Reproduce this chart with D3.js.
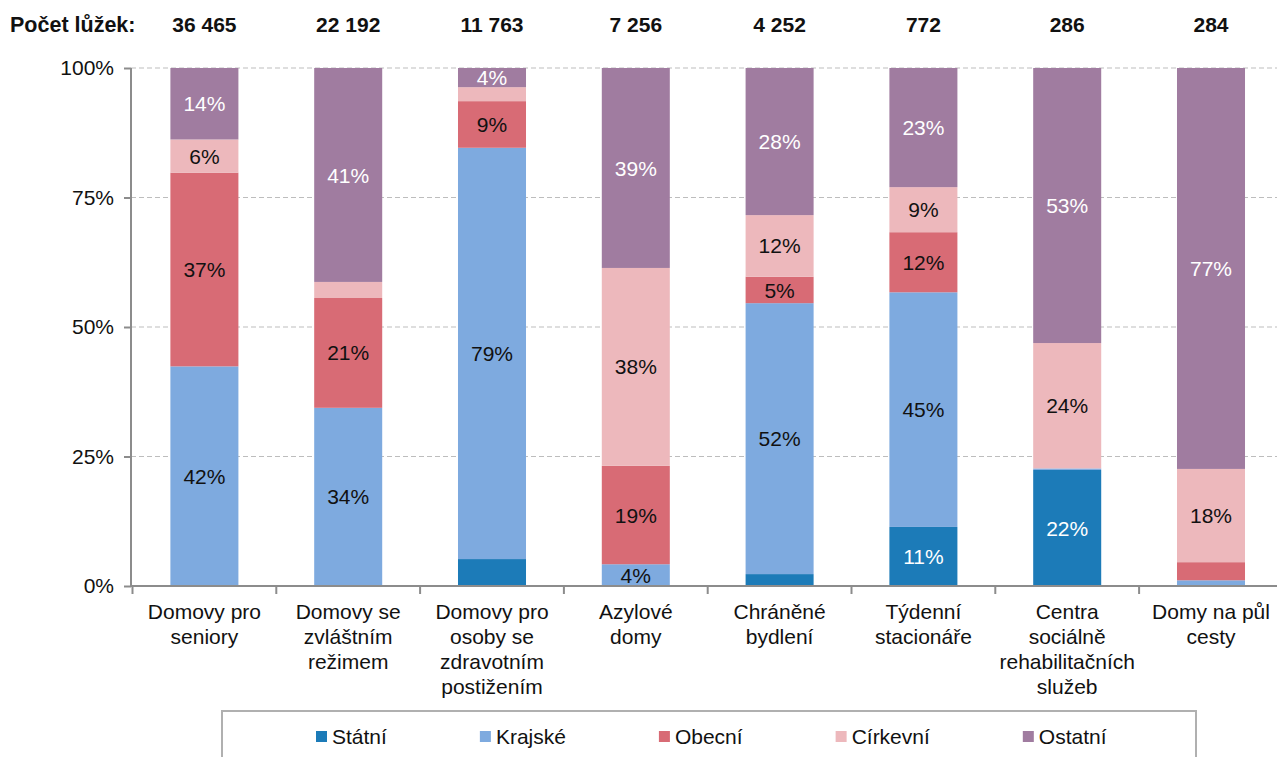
<!DOCTYPE html>
<html>
<head>
<meta charset="utf-8">
<script src="https://cdn.jsdelivr.net/npm/d3@7"></script>
<style>
  body { margin: 0; background: #fff; }
  svg { display: block; font-family: "Liberation Sans", Arial, sans-serif; }
</style>
</head>
<body>
<div id="chart"></div>
<script>
// Kapacita lůžek podle zřizovatele (podíly v %)
const categories = [
  ['Domovy pro', 'seniory'],
  ['Domovy se', 'zvláštním', 'režimem'],
  ['Domovy pro', 'osoby se', 'zdravotním', 'postižením'],
  ['Azylové', 'domy'],
  ['Chráněné', 'bydlení'],
  ['Týdenní', 'stacionáře'],
  ['Centra', 'sociálně', 'rehabilitačních', 'služeb'],
  ['Domy na půl', 'cesty']
];
const beds = ['36 465', '22 192', '11 763', '7 256', '4 252', '772', '286', '284'];
const seriesNames = ['Státní', 'Krajské', 'Obecní', 'Církevní', 'Ostatní'];
const statni   = [0,    0,    5.2,  0,    2.3,  11.4, 22.4, 0];
const krajske  = [42.4, 34.4, 79.4, 4.2,  52.3, 45.3, 0.3,  1.1];
const obecni   = [37.4, 21.2, 9.0,  19.0, 5.1,  11.6, 0,    3.5];
const cirkevni = [6.4,  3.1,  2.7,  38.2, 11.9, 8.7,  24.2, 18.0];
const ostatni  = [13.8, 41.3, 3.7,  38.6, 28.4, 23.0, 53.1, 77.4];
const yTicks = [0, 25, 50, 75, 100];
// segments whose label is left out in the original: [category, series]
const hiddenLabels = [[1, 3], [2, 0], [2, 3], [4, 0], [6, 1], [7, 1], [7, 2]];

const COLORS = ['#1c7bb8', '#7eaadf', '#d86b75', '#edb8bc', '#a07ca0'];
const LABEL_COLORS = ['#fff', '#111', '#111', '#111', '#fff'];

const W = 1277, H = 757;
const M = { top: 68, bottom: 171, left: 131 };
const FS = 21;

const seriesData = [statni, krajske, obecni, cirkevni, ostatni];
const rows = categories.map((c, i) => {
  const r = { i };
  seriesNames.forEach((s, j) => { r[s] = seriesData[j][i]; });
  return r;
});
const stack = d3.stack().keys(seriesNames)(rows);

const svg = d3.select('#chart').append('svg')
  .attr('width', W).attr('height', H);

// category bands run a little past the right edge, as in the original
const x = d3.scaleBand().domain(d3.range(categories.length))
  .range([M.left + 1.5, M.left + 1.5 + 8 * 143.8]).paddingInner(0.527).paddingOuter(0.2635);
const y = d3.scaleLinear().domain([0, 100]).range([H - M.bottom, M.top]);
const step = x.step();
const x0 = x.range()[0];

// grid lines
svg.append('g')
  .selectAll('line').data(yTicks.filter(d => d > 0)).join('line')
  .attr('x1', M.left).attr('x2', W)
  .attr('y1', d => y(d)).attr('y2', d => y(d))
  .attr('stroke', '#bdbdbd').attr('stroke-width', 1.2)
  .attr('stroke-dasharray', '5 3');

// bars
const layer = svg.append('g').selectAll('g').data(stack).join('g')
  .attr('fill', (d, j) => COLORS[j]);
layer.selectAll('rect').data(d => d).join('rect')
  .attr('x', d => x(d.data.i))
  .attr('width', x.bandwidth())
  .attr('y', d => y(d[1]))
  .attr('height', d => y(d[0]) - y(d[1]));

// segment labels
const isHidden = (i, j) => hiddenLabels.some(h => h[0] === i && h[1] === j);
stack.forEach((s, j) => {
  svg.append('g').selectAll('text')
    .data(s.filter(d => d[1] - d[0] > 0 && !isHidden(d.data.i, j)))
    .join('text')
    .attr('x', d => x(d.data.i) + x.bandwidth() / 2)
    .attr('y', d => (y(d[0]) + y(d[1])) / 2)
    .attr('dy', '0.36em')
    .attr('text-anchor', 'middle')
    .attr('font-size', FS)
    .attr('fill', LABEL_COLORS[j])
    .text(d => Math.round(d[1] - d[0]) + '%');
});

// y axis
const yAxis = svg.append('g').attr('transform', `translate(${M.left},0)`)
  .call(d3.axisLeft(y).tickValues(yTicks).tickFormat(d => d + '%').tickSize(7).tickPadding(10));
yAxis.selectAll('path, line').attr('stroke', '#8c8c8c').attr('stroke-width', 2);
yAxis.select('.domain').attr('d', `M0,${y(0)}V${y(100)}`);
yAxis.selectAll('text').attr('font-size', FS).attr('fill', '#111')
  .attr('font-family', '"Liberation Sans", Arial, sans-serif');

// x axis line and ticks between categories
const xg = svg.append('g');
xg.append('line')
  .attr('x1', M.left).attr('x2', W)
  .attr('y1', y(0)).attr('y2', y(0))
  .attr('stroke', '#8c8c8c').attr('stroke-width', 2);
xg.selectAll('line.tk').data(d3.range(categories.length)).join('line')
  .attr('class', 'tk')
  .attr('x1', i => x0 + i * step).attr('x2', i => x0 + i * step)
  .attr('y1', y(0)).attr('y2', y(0) + 8)
  .attr('stroke', '#8c8c8c').attr('stroke-width', 2);

// category labels
const catText = svg.append('g').selectAll('text').data(categories).join('text')
  .attr('x', (d, i) => x(i) + x.bandwidth() / 2)
  .attr('y', y(0) + 33)
  .attr('text-anchor', 'middle')
  .attr('font-size', FS)
  .attr('fill', '#111');
catText.selectAll('tspan').data(d => d).join('tspan')
  .attr('x', function() { return this.parentNode.getAttribute('x'); })
  .attr('dy', (d, k) => k === 0 ? 0 : 25)
  .text(d => d);

// bed counts on top
svg.append('text')
  .attr('x', 10).attr('y', 32)
  .attr('font-size', FS + 0.5).attr('font-weight', 'bold').attr('fill', '#111')
  .text('Počet lůžek:');
svg.append('g').selectAll('text').data(beds).join('text')
  .attr('x', (d, i) => x(i) + x.bandwidth() / 2)
  .attr('y', 32)
  .attr('text-anchor', 'middle')
  .attr('font-size', FS).attr('font-weight', 'bold').attr('fill', '#111')
  .text(d => d);

// legend
const lg = svg.append('g');
lg.append('rect')
  .attr('x', 222).attr('y', 711).attr('width', 974).attr('height', 60)
  .attr('fill', '#fff').attr('stroke', '#b0b0b0').attr('stroke-width', 2);
let lx = 316;
seriesNames.forEach((name, j) => {
  lg.append('rect')
    .attr('x', lx).attr('y', 731).attr('width', 11).attr('height', 11)
    .attr('fill', COLORS[j]);
  const t = lg.append('text')
    .attr('x', lx + 16).attr('y', 744)
    .attr('font-size', FS).attr('fill', '#111')
    .text(name);
  lx += 16 + t.node().getComputedTextLength() + 93;
});
</script>
</body>
</html>
